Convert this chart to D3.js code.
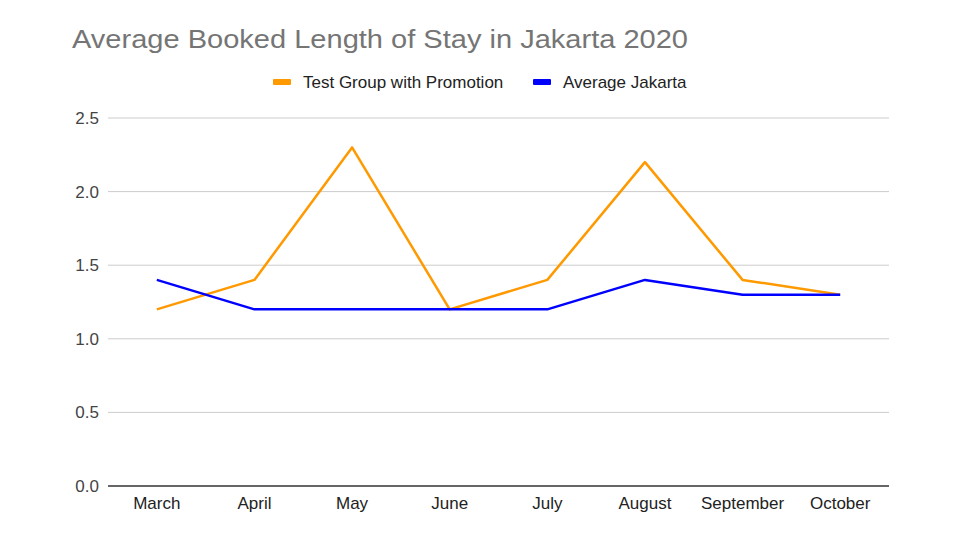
<!DOCTYPE html>
<html>
<head>
<meta charset="utf-8">
<script src="https://cdn.jsdelivr.net/npm/d3@7"></script>
<style>
  body { margin: 0; background: #fff; }
  svg { display: block; font-family: "Liberation Sans", Arial, sans-serif; }
</style>
</head>
<body>
<svg id="chart" width="960" height="540"></svg>
<script>
const months = ["March", "April", "May", "June", "July", "August", "September", "October"];
const testGroup = [1.2, 1.4, 2.3, 1.2, 1.4, 2.2, 1.4, 1.3];
const avgJakarta = [1.4, 1.2, 1.2, 1.2, 1.2, 1.4, 1.3, 1.3];
const yTicks = [0, 0.5, 1.0, 1.5, 2.0, 2.5];

const seriesList = [
  { name: "Test Group with Promotion", values: testGroup, color: "#ff9900" },
  { name: "Average Jakarta", values: avgJakarta, color: "#0000ff" }
];

const width = 960, height = 540;
const margin = { top: 118, right: 71, bottom: 54, left: 108 };

const svg = d3.select("#chart");

// title
svg.append("text")
  .attr("x", 72)
  .attr("y", 48)
  .attr("textLength", 616)
  .attr("lengthAdjust", "spacingAndGlyphs")
  .style("font-size", "26px")
  .style("fill", "#757575")
  .text("Average Booked Length of Stay in Jakarta 2020");

const x = d3.scalePoint()
  .domain(months)
  .range([margin.left, width - margin.right])
  .padding(0.5);

const y = d3.scaleLinear()
  .domain([0, 2.5])
  .range([height - margin.bottom, margin.top]);

// gridlines
svg.append("g")
  .selectAll("line")
  .data(yTicks.filter(d => d > 0))
  .enter()
  .append("line")
  .attr("x1", margin.left)
  .attr("x2", width - margin.right)
  .attr("y1", d => y(d))
  .attr("y2", d => y(d))
  .attr("stroke", "#cccccc")
  .attr("stroke-width", 1);

// y labels
svg.append("g")
  .selectAll("text")
  .data(yTicks)
  .enter()
  .append("text")
  .attr("x", margin.left - 9)
  .attr("y", d => y(d) + 6)
  .attr("text-anchor", "end")
  .style("font-size", "17px")
  .style("fill", "#444")
  .text(d => d.toFixed(1));

// baseline
svg.append("line")
  .attr("x1", margin.left)
  .attr("x2", width - margin.right)
  .attr("y1", y(0))
  .attr("y2", y(0))
  .attr("stroke", "#333")
  .attr("stroke-width", 1.5);

// x labels
svg.append("g")
  .selectAll("text")
  .data(months)
  .enter()
  .append("text")
  .attr("x", d => x(d))
  .attr("y", y(0) + 23)
  .attr("text-anchor", "middle")
  .style("font-size", "17px")
  .style("fill", "#222")
  .text(d => d);

const line = d3.line()
  .x((d, i) => x(months[i]))
  .y(d => y(d));

// orange first, blue on top like the reference
seriesList.forEach(s => {
  svg.append("path")
    .datum(s.values)
    .attr("fill", "none")
    .attr("stroke", s.color)
    .attr("stroke-width", 2.5)
    .attr("stroke-linejoin", "round")
    .attr("d", line);
});

// legend
const legendPos = [273, 533];
const legend = svg.selectAll(".legend")
  .data(seriesList)
  .enter()
  .append("g")
  .attr("class", "legend")
  .attr("transform", (d, i) => `translate(${legendPos[i]}, 82)`);

legend.append("rect")
  .attr("x", 0)
  .attr("y", -3)
  .attr("width", 18)
  .attr("height", 6)
  .attr("rx", 1)
  .attr("fill", d => d.color);

legend.append("text")
  .attr("x", 30)
  .attr("y", 6)
  .style("font-size", "17px")
  .style("fill", "#222")
  .text(d => d.name);
</script>
</body>
</html>
